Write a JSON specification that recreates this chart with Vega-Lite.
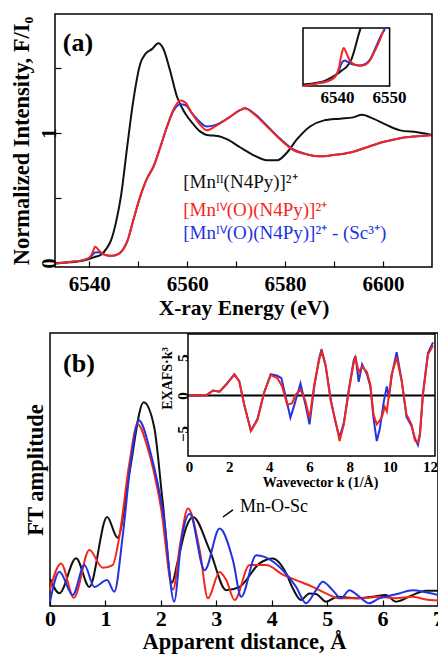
{
"$schema": "https://vega.github.io/schema/vega-lite/v6.json",
"padding": {"left": 9, "top": 13, "right": 0, "bottom": 0},
"background": "white",
"config": {
  "font": "Liberation Serif",
  "view": {"stroke": "black", "strokeWidth": 1.5},
  "axis": {"grid": false, "labelFlush": false, "labelOverlap": false, "labelFont": "Liberation Serif", "titleFont": "Liberation Serif", "labelFontWeight": "bold", "titleFontWeight": "bold", "labelColor": "black", "titleColor": "black", "tickColor": "black", "domainColor": "black", "tickWidth": 1.2}
},
"datasets": {
  "a": [
    {"s":"MnII","x":6533,"y":0.0},{"s":"MnII","x":6536,"y":0.005},{"s":"MnII","x":6539,"y":0.02},{"s":"MnII","x":6541,"y":0.045},{"s":"MnII","x":6542.5,"y":0.065},{"s":"MnII","x":6543.5,"y":0.11},{"s":"MnII","x":6544.5,"y":0.18},{"s":"MnII","x":6545.5,"y":0.32},{"s":"MnII","x":6546.5,"y":0.52},{"s":"MnII","x":6547.7,"y":0.88},{"s":"MnII","x":6549,"y":1.25},{"s":"MnII","x":6550.4,"y":1.53},{"s":"MnII","x":6551.5,"y":1.61},{"s":"MnII","x":6552.8,"y":1.645},{"s":"MnII","x":6554.1,"y":1.69},{"s":"MnII","x":6555.1,"y":1.65},{"s":"MnII","x":6556.5,"y":1.48},{"s":"MnII","x":6557.9,"y":1.28},{"s":"MnII","x":6559.6,"y":1.15},{"s":"MnII","x":6561.2,"y":1.07},{"s":"MnII","x":6562.7,"y":1.01},{"s":"MnII","x":6564,"y":0.985},{"s":"MnII","x":6565.3,"y":0.98},{"s":"MnII","x":6566.5,"y":0.975},{"s":"MnII","x":6568.2,"y":0.95},{"s":"MnII","x":6570.8,"y":0.89},{"s":"MnII","x":6573.5,"y":0.83},{"s":"MnII","x":6576.3,"y":0.79},{"s":"MnII","x":6578.4,"y":0.79},{"s":"MnII","x":6580.4,"y":0.85},{"s":"MnII","x":6582.4,"y":0.95},{"s":"MnII","x":6585.1,"y":1.05},{"s":"MnII","x":6587.8,"y":1.095},{"s":"MnII","x":6591.2,"y":1.11},{"s":"MnII","x":6593.9,"y":1.12},{"s":"MnII","x":6595.7,"y":1.14},{"s":"MnII","x":6598,"y":1.11},{"s":"MnII","x":6600.8,"y":1.06},{"s":"MnII","x":6603.5,"y":1.02},{"s":"MnII","x":6607,"y":1.005},{"s":"MnII","x":6610,"y":0.985},
    {"s":"MnIVSc","x":6533,"y":-0.005},{"s":"MnIVSc","x":6536,"y":0.008},{"s":"MnIVSc","x":6538.5,"y":0.02},{"s":"MnIVSc","x":6540,"y":0.04},{"s":"MnIVSc","x":6540.6,"y":0.06},{"s":"MnIVSc","x":6541.2,"y":0.08},{"s":"MnIVSc","x":6541.9,"y":0.082},{"s":"MnIVSc","x":6542.6,"y":0.07},{"s":"MnIVSc","x":6543.5,"y":0.06},{"s":"MnIVSc","x":6544.7,"y":0.055},{"s":"MnIVSc","x":6546,"y":0.07},{"s":"MnIVSc","x":6547,"y":0.11},{"s":"MnIVSc","x":6547.8,"y":0.17},{"s":"MnIVSc","x":6549,"y":0.33},{"s":"MnIVSc","x":6550.4,"y":0.51},{"s":"MnIVSc","x":6551.8,"y":0.65},{"s":"MnIVSc","x":6553.1,"y":0.74},{"s":"MnIVSc","x":6554.5,"y":0.89},{"s":"MnIVSc","x":6555.9,"y":1.05},{"s":"MnIVSc","x":6557.2,"y":1.17},{"s":"MnIVSc","x":6558.6,"y":1.22},{"s":"MnIVSc","x":6559.6,"y":1.215},{"s":"MnIVSc","x":6561,"y":1.15},{"s":"MnIVSc","x":6562.7,"y":1.08},{"s":"MnIVSc","x":6564,"y":1.05},{"s":"MnIVSc","x":6565.7,"y":1.06},{"s":"MnIVSc","x":6568.2,"y":1.11},{"s":"MnIVSc","x":6570.8,"y":1.175},{"s":"MnIVSc","x":6571.8,"y":1.19},{"s":"MnIVSc","x":6573.5,"y":1.155},{"s":"MnIVSc","x":6576.3,"y":1.055},{"s":"MnIVSc","x":6579,"y":0.955},{"s":"MnIVSc","x":6581.6,"y":0.875},{"s":"MnIVSc","x":6584.5,"y":0.835},{"s":"MnIVSc","x":6587.1,"y":0.82},{"s":"MnIVSc","x":6589.8,"y":0.83},{"s":"MnIVSc","x":6593.3,"y":0.85},{"s":"MnIVSc","x":6596.7,"y":0.89},{"s":"MnIVSc","x":6600,"y":0.93},{"s":"MnIVSc","x":6603.5,"y":0.96},{"s":"MnIVSc","x":6607,"y":0.975},{"s":"MnIVSc","x":6610,"y":0.985},
    {"s":"MnIV","x":6533,"y":-0.005},{"s":"MnIV","x":6536,"y":0.008},{"s":"MnIV","x":6538.5,"y":0.02},{"s":"MnIV","x":6540,"y":0.04},{"s":"MnIV","x":6540.6,"y":0.075},{"s":"MnIV","x":6541.2,"y":0.125},{"s":"MnIV","x":6541.9,"y":0.1},{"s":"MnIV","x":6542.6,"y":0.075},{"s":"MnIV","x":6543.5,"y":0.06},{"s":"MnIV","x":6544.7,"y":0.055},{"s":"MnIV","x":6546,"y":0.07},{"s":"MnIV","x":6547,"y":0.11},{"s":"MnIV","x":6547.8,"y":0.17},{"s":"MnIV","x":6549,"y":0.33},{"s":"MnIV","x":6550.4,"y":0.51},{"s":"MnIV","x":6551.8,"y":0.65},{"s":"MnIV","x":6553.1,"y":0.74},{"s":"MnIV","x":6554.5,"y":0.89},{"s":"MnIV","x":6555.9,"y":1.05},{"s":"MnIV","x":6557.2,"y":1.18},{"s":"MnIV","x":6558.6,"y":1.25},{"s":"MnIV","x":6559.6,"y":1.235},{"s":"MnIV","x":6561,"y":1.15},{"s":"MnIV","x":6562.7,"y":1.06},{"s":"MnIV","x":6564,"y":1.02},{"s":"MnIV","x":6565.7,"y":1.05},{"s":"MnIV","x":6568.2,"y":1.11},{"s":"MnIV","x":6570.8,"y":1.175},{"s":"MnIV","x":6571.8,"y":1.19},{"s":"MnIV","x":6573.5,"y":1.15},{"s":"MnIV","x":6576.3,"y":1.05},{"s":"MnIV","x":6579,"y":0.95},{"s":"MnIV","x":6581.6,"y":0.87},{"s":"MnIV","x":6584.5,"y":0.835},{"s":"MnIV","x":6587.1,"y":0.82},{"s":"MnIV","x":6589.8,"y":0.83},{"s":"MnIV","x":6593.3,"y":0.85},{"s":"MnIV","x":6596.7,"y":0.89},{"s":"MnIV","x":6600,"y":0.93},{"s":"MnIV","x":6603.5,"y":0.96},{"s":"MnIV","x":6607,"y":0.975},{"s":"MnIV","x":6610,"y":0.985}
  ],
  "ai": [
    {"s":"MnII","x":6533.5,"y":0.005},{"s":"MnII","x":6535.4,"y":0.009},{"s":"MnII","x":6537.4,"y":0.016},{"s":"MnII","x":6539,"y":0.03},{"s":"MnII","x":6540,"y":0.041},{"s":"MnII","x":6540.9,"y":0.053},{"s":"MnII","x":6541.9,"y":0.067},{"s":"MnII","x":6542.8,"y":0.093},{"s":"MnII","x":6543.5,"y":0.133},{"s":"MnII","x":6544.1,"y":0.173},{"s":"MnII","x":6544.55,"y":0.2},
    {"s":"MnIVSc","x":6533.5,"y":0.0},{"s":"MnIVSc","x":6536,"y":0.009},{"s":"MnIVSc","x":6538.3,"y":0.018},{"s":"MnIVSc","x":6539.6,"y":0.032},{"s":"MnIVSc","x":6540.4,"y":0.055},{"s":"MnIVSc","x":6540.9,"y":0.078},{"s":"MnIVSc","x":6541.5,"y":0.088},{"s":"MnIVSc","x":6542,"y":0.084},{"s":"MnIVSc","x":6542.5,"y":0.078},{"s":"MnIVSc","x":6543.5,"y":0.073},{"s":"MnIVSc","x":6544.4,"y":0.071},{"s":"MnIVSc","x":6545.4,"y":0.075},{"s":"MnIVSc","x":6546.3,"y":0.09},{"s":"MnIVSc","x":6547.3,"y":0.127},{"s":"MnIVSc","x":6548.3,"y":0.168},{"s":"MnIVSc","x":6549.2,"y":0.197},
    {"s":"MnIV","x":6533.5,"y":0.0},{"s":"MnIV","x":6536,"y":0.008},{"s":"MnIV","x":6538.3,"y":0.017},{"s":"MnIV","x":6539.6,"y":0.031},{"s":"MnIV","x":6540.4,"y":0.064},{"s":"MnIV","x":6540.9,"y":0.11},{"s":"MnIV","x":6541.3,"y":0.131},{"s":"MnIV","x":6541.9,"y":0.11},{"s":"MnIV","x":6542.5,"y":0.087},{"s":"MnIV","x":6543.5,"y":0.073},{"s":"MnIV","x":6544.4,"y":0.07},{"s":"MnIV","x":6545.4,"y":0.073},{"s":"MnIV","x":6546.3,"y":0.087},{"s":"MnIV","x":6547.3,"y":0.122},{"s":"MnIV","x":6548.3,"y":0.162},{"s":"MnIV","x":6548.9,"y":0.19}
  ],
  "b": [
    {"s":"MnII","x":0,"y":0.1},{"s":"MnII","x":0.17,"y":0.047},{"s":"MnII","x":0.47,"y":0.175},{"s":"MnII","x":0.71,"y":0.07},{"s":"MnII","x":1.03,"y":0.326},{"s":"MnII","x":1.22,"y":0.25},{"s":"MnII","x":1.43,"y":0.485},{"s":"MnII","x":1.69,"y":0.746},{"s":"MnII","x":1.88,"y":0.655},{"s":"MnII","x":2.03,"y":0.387},{"s":"MnII","x":2.2,"y":0.085},{"s":"MnII","x":2.3,"y":0.16},{"s":"MnII","x":2.46,"y":0.29},{"s":"MnII","x":2.58,"y":0.326},{"s":"MnII","x":2.88,"y":0.205},{"s":"MnII","x":3.18,"y":0.058},{"s":"MnII","x":3.42,"y":0.07},{"s":"MnII","x":3.78,"y":0.156},{"s":"MnII","x":4.02,"y":0.174},{"s":"MnII","x":4.26,"y":0.12},{"s":"MnII","x":4.38,"y":0.065},{"s":"MnII","x":4.53,"y":0.022},{"s":"MnII","x":4.68,"y":0.046},{"s":"MnII","x":4.8,"y":0.044},{"s":"MnII","x":4.98,"y":0.016},{"s":"MnII","x":5.19,"y":0.034},{"s":"MnII","x":5.52,"y":0.028},{"s":"MnII","x":5.82,"y":0.034},{"s":"MnII","x":6.06,"y":0.04},{"s":"MnII","x":6.24,"y":0.016},{"s":"MnII","x":6.54,"y":0.04},{"s":"MnII","x":6.78,"y":0.056},{"s":"MnII","x":7.0,"y":0.056},
    {"s":"MnIV","x":0,"y":0.06},{"s":"MnIV","x":0.2,"y":0.156},{"s":"MnIV","x":0.43,"y":0.03},{"s":"MnIV","x":0.71,"y":0.205},{"s":"MnIV","x":0.95,"y":0.14},{"s":"MnIV","x":1.13,"y":0.15},{"s":"MnIV","x":1.25,"y":0.253},{"s":"MnIV","x":1.43,"y":0.52},{"s":"MnIV","x":1.58,"y":0.667},{"s":"MnIV","x":1.76,"y":0.58},{"s":"MnIV","x":2.0,"y":0.362},{"s":"MnIV","x":2.22,"y":0.06},{"s":"MnIV","x":2.35,"y":0.23},{"s":"MnIV","x":2.49,"y":0.357},{"s":"MnIV","x":2.7,"y":0.205},{"s":"MnIV","x":2.85,"y":0.028},{"s":"MnIV","x":3.06,"y":0.125},{"s":"MnIV","x":3.18,"y":0.095},{"s":"MnIV","x":3.33,"y":0.022},{"s":"MnIV","x":3.6,"y":0.15},{"s":"MnIV","x":3.9,"y":0.15},{"s":"MnIV","x":4.2,"y":0.115},{"s":"MnIV","x":4.44,"y":0.095},{"s":"MnIV","x":4.74,"y":0.07},{"s":"MnIV","x":4.98,"y":0.046},{"s":"MnIV","x":5.22,"y":0.028},{"s":"MnIV","x":5.64,"y":0.028},{"s":"MnIV","x":5.94,"y":0.034},{"s":"MnIV","x":6.24,"y":0.028},{"s":"MnIV","x":6.54,"y":0.034},{"s":"MnIV","x":6.78,"y":0.024},{"s":"MnIV","x":7.0,"y":0.02},
    {"s":"MnIVSc","x":0,"y":0.015},{"s":"MnIVSc","x":0.17,"y":0.125},{"s":"MnIVSc","x":0.41,"y":0.04},{"s":"MnIVSc","x":0.62,"y":0.15},{"s":"MnIVSc","x":0.8,"y":0.07},{"s":"MnIVSc","x":1.03,"y":0.095},{"s":"MnIVSc","x":1.16,"y":0.052},{"s":"MnIVSc","x":1.31,"y":0.253},{"s":"MnIVSc","x":1.46,"y":0.533},{"s":"MnIVSc","x":1.6,"y":0.68},{"s":"MnIVSc","x":1.82,"y":0.557},{"s":"MnIVSc","x":2.06,"y":0.314},{"s":"MnIVSc","x":2.24,"y":0.016},{"s":"MnIVSc","x":2.37,"y":0.24},{"s":"MnIVSc","x":2.52,"y":0.338},{"s":"MnIVSc","x":2.79,"y":0.131},{"s":"MnIVSc","x":3.06,"y":0.284},{"s":"MnIVSc","x":3.3,"y":0.168},{"s":"MnIVSc","x":3.45,"y":0.034},{"s":"MnIVSc","x":3.72,"y":0.186},{"s":"MnIVSc","x":3.87,"y":0.18},{"s":"MnIVSc","x":4.2,"y":0.131},{"s":"MnIVSc","x":4.44,"y":0.07},{"s":"MnIVSc","x":4.62,"y":0.01},{"s":"MnIVSc","x":4.8,"y":0.058},{"s":"MnIVSc","x":4.92,"y":0.089},{"s":"MnIVSc","x":5.1,"y":0.058},{"s":"MnIVSc","x":5.25,"y":0.028},{"s":"MnIVSc","x":5.4,"y":0.058},{"s":"MnIVSc","x":5.58,"y":0.034},{"s":"MnIVSc","x":5.76,"y":0.01},{"s":"MnIVSc","x":5.94,"y":0.028},{"s":"MnIVSc","x":6.06,"y":0.034},{"s":"MnIVSc","x":6.3,"y":0.046},{"s":"MnIVSc","x":6.54,"y":0.058},{"s":"MnIVSc","x":6.78,"y":0.05},{"s":"MnIVSc","x":7.0,"y":0.04}
  ],
  "bi": [
    {"s":"MnIVSc","x":0,"y":0},{"s":"MnIVSc","x":0.5,"y":0},{"s":"MnIVSc","x":0.87,"y":0.05},{"s":"MnIVSc","x":1.2,"y":0.66},{"s":"MnIVSc","x":1.52,"y":0.5},{"s":"MnIVSc","x":1.85,"y":1.45},{"s":"MnIVSc","x":2.26,"y":2.8},{"s":"MnIVSc","x":2.5,"y":1.9},{"s":"MnIVSc","x":2.75,"y":-1.2},{"s":"MnIVSc","x":3.08,"y":-4.6},{"s":"MnIVSc","x":3.41,"y":-3.1},{"s":"MnIVSc","x":3.74,"y":0.4},{"s":"MnIVSc","x":4.07,"y":2.8},{"s":"MnIVSc","x":4.4,"y":2.6},{"s":"MnIVSc","x":4.6,"y":2.3},{"s":"MnIVSc","x":4.8,"y":0.0},{"s":"MnIVSc","x":5.05,"y":-2.9},{"s":"MnIVSc","x":5.25,"y":-1.2},{"s":"MnIVSc","x":5.55,"y":1.6},{"s":"MnIVSc","x":5.8,"y":-1.2},{"s":"MnIVSc","x":6.0,"y":-3.8},{"s":"MnIVSc","x":6.24,"y":1.2},{"s":"MnIVSc","x":6.48,"y":4.9},{"s":"MnIVSc","x":6.6,"y":6.1},{"s":"MnIVSc","x":6.8,"y":4.0},{"s":"MnIVSc","x":7.06,"y":-0.5},{"s":"MnIVSc","x":7.3,"y":-3.6},{"s":"MnIVSc","x":7.5,"y":-5.5},{"s":"MnIVSc","x":7.71,"y":-3.6},{"s":"MnIVSc","x":7.96,"y":0.8},{"s":"MnIVSc","x":8.2,"y":4.6},{"s":"MnIVSc","x":8.29,"y":5.2},{"s":"MnIVSc","x":8.45,"y":1.8},{"s":"MnIVSc","x":8.62,"y":4.1},{"s":"MnIVSc","x":8.86,"y":2.8},{"s":"MnIVSc","x":9.03,"y":1.2},{"s":"MnIVSc","x":9.19,"y":-3.0},{"s":"MnIVSc","x":9.35,"y":-6.0},{"s":"MnIVSc","x":9.5,"y":-4.4},{"s":"MnIVSc","x":9.7,"y":-0.8},{"s":"MnIVSc","x":9.85,"y":1.2},{"s":"MnIVSc","x":9.95,"y":-0.3},{"s":"MnIVSc","x":10.1,"y":2.7},{"s":"MnIVSc","x":10.34,"y":5.7},{"s":"MnIVSc","x":10.59,"y":2.0},{"s":"MnIVSc","x":10.83,"y":-2.8},{"s":"MnIVSc","x":11.08,"y":-4.0},{"s":"MnIVSc","x":11.25,"y":-5.6},{"s":"MnIVSc","x":11.4,"y":-6.5},{"s":"MnIVSc","x":11.5,"y":-5.2},{"s":"MnIVSc","x":11.65,"y":0.3},{"s":"MnIVSc","x":11.9,"y":5.6},{"s":"MnIVSc","x":12.15,"y":7.0},
    {"s":"MnIV","x":0,"y":0},{"s":"MnIV","x":0.5,"y":0},{"s":"MnIV","x":0.87,"y":0.05},{"s":"MnIV","x":1.2,"y":0.66},{"s":"MnIV","x":1.52,"y":0.5},{"s":"MnIV","x":1.85,"y":1.45},{"s":"MnIV","x":2.26,"y":2.76},{"s":"MnIV","x":2.5,"y":1.9},{"s":"MnIV","x":2.75,"y":-1.2},{"s":"MnIV","x":3.08,"y":-4.7},{"s":"MnIV","x":3.41,"y":-3.2},{"s":"MnIV","x":3.74,"y":0.36},{"s":"MnIV","x":4.07,"y":2.7},{"s":"MnIV","x":4.4,"y":2.3},{"s":"MnIV","x":4.64,"y":1.2},{"s":"MnIV","x":4.89,"y":-1.2},{"s":"MnIV","x":5.14,"y":-1.0},{"s":"MnIV","x":5.3,"y":0.1},{"s":"MnIV","x":5.55,"y":0.8},{"s":"MnIV","x":5.8,"y":-0.75},{"s":"MnIV","x":6.0,"y":-3.0},{"s":"MnIV","x":6.24,"y":1.45},{"s":"MnIV","x":6.48,"y":4.7},{"s":"MnIV","x":6.6,"y":5.8},{"s":"MnIV","x":6.8,"y":4.0},{"s":"MnIV","x":7.06,"y":-0.75},{"s":"MnIV","x":7.3,"y":-3.4},{"s":"MnIV","x":7.5,"y":-6.0},{"s":"MnIV","x":7.71,"y":-3.8},{"s":"MnIV","x":7.96,"y":0.6},{"s":"MnIV","x":8.2,"y":4.3},{"s":"MnIV","x":8.29,"y":5.0},{"s":"MnIV","x":8.45,"y":3.1},{"s":"MnIV","x":8.62,"y":3.8},{"s":"MnIV","x":8.86,"y":3.1},{"s":"MnIV","x":9.03,"y":1.45},{"s":"MnIV","x":9.19,"y":-2.5},{"s":"MnIV","x":9.35,"y":-3.8},{"s":"MnIV","x":9.6,"y":-2.9},{"s":"MnIV","x":9.75,"y":-1.5},{"s":"MnIV","x":9.85,"y":-2.1},{"s":"MnIV","x":10.09,"y":2.76},{"s":"MnIV","x":10.34,"y":5.0},{"s":"MnIV","x":10.59,"y":1.9},{"s":"MnIV","x":10.83,"y":-2.5},{"s":"MnIV","x":11.08,"y":-3.8},{"s":"MnIV","x":11.25,"y":-5.9},{"s":"MnIV","x":11.4,"y":-6.2},{"s":"MnIV","x":11.5,"y":-5.0},{"s":"MnIV","x":11.65,"y":0.1},{"s":"MnIV","x":11.9,"y":5.4},{"s":"MnIV","x":12.15,"y":6.6}
  ]
},
"bounds": "flush",
"spacing": 66,
"vconcat": [
  {
    "width": 382, "height": 253,
    "view": {"stroke": null},
    "resolve": {"scale": {"x": "independent", "y": "independent"}, "axis": {"x": "independent", "y": "independent"}},
    "layer": [
      {
        "layer": [
          {
            "data": {"name": "a"},
            "mark": {"type": "line", "strokeWidth": 2, "interpolate": "monotone"},
            "encoding": {
              "x": {"field": "x", "type": "quantitative", "scale": {"domain": [6533, 6610], "range": [5, 382], "nice": false, "zero": false},
                    "axis": {"orient": "bottom", "title": "X-ray Energy (eV)", "values": [6540, 6550, 6560, 6570, 6580, 6590, 6600], "format": "d", "labelExpr": "datum.value % 20 == 0 ? datum.label : ''", "domain": false, "tickSize": -6, "labelPadding": 12, "labelFontSize": 21, "titleFontSize": 21.5, "titlePadding": 3}},
              "y": {"field": "y", "type": "quantitative", "scale": {"domain": [-0.031, 1.915], "nice": false, "zero": false},
                    "axis": {"orient": "left", "title": "Normalized Intensity, F/I₀", "values": [0, 0.5, 1, 1.5], "labelExpr": "datum.value == 0 ? '0' : (datum.value == 1 ? '1' : '')", "offset": -5, "domain": false, "tickSize": -6, "labelAngle": -90, "labelAlign": "center", "labelBaseline": "alphabetic", "labelPadding": 6, "labelFontSize": 20, "titleFontSize": 22.5, "titlePadding": 6}},
              "color": {"field": "s", "type": "nominal", "scale": {"domain": ["MnII", "MnIV", "MnIVSc"], "range": ["#111111", "#f4261c", "#2433e0"]}, "legend": null}
            }
          },
          {
            "data": {"values": [{"label": "[Mnᴵᴵ(N4Py)]²⁺"}]},
            "mark": {"type": "text", "align": "left", "baseline": "middle", "fontSize": 19, "font": "Liberation Serif", "color": "#111111"},
            "encoding": {"x": {"datum": 6559.2}, "y": {"datum": 0.623}, "text": {"field": "label"}}
          },
          {
            "data": {"values": [{"label": "[Mnᴵⱽ(O)(N4Py)]²⁺"}]},
            "mark": {"type": "text", "align": "left", "baseline": "middle", "fontSize": 19, "font": "Liberation Serif", "color": "#f4261c"},
            "encoding": {"x": {"datum": 6559.2}, "y": {"datum": 0.408}, "text": {"field": "label"}}
          },
          {
            "data": {"values": [{"label": "[Mnᴵⱽ(O)(N4Py)]²⁺ - (Sc³⁺)"}]},
            "mark": {"type": "text", "align": "left", "baseline": "middle", "fontSize": 19, "font": "Liberation Serif", "color": "#2433e0"},
            "encoding": {"x": {"datum": 6559.2}, "y": {"datum": 0.231}, "text": {"field": "label"}}
          },
          {
            "data": {"values": [{"label": "(a)"}]},
            "mark": {"type": "text", "align": "left", "baseline": "middle", "fontSize": 26, "fontWeight": "bold", "font": "Liberation Serif", "color": "black"},
            "encoding": {"x": {"datum": 6534.6}, "y": {"datum": 1.69}, "text": {"field": "label"}}
          },
          {
            "data": {"values": [{"frame": "a"}]},
            "mark": {"type": "rect", "fillOpacity": 0, "stroke": "black", "strokeWidth": 1.5},
            "encoding": {"x": {"datum": 6533}, "x2": {"datum": 6610}, "y": {"datum": -0.031}, "y2": {"datum": 1.915}}
          }
        ]
      },
      {
        "layer": [
          {
            "data": {"values": [{"frame": "a-inset"}]},
            "mark": {"type": "rect", "fill": "white", "stroke": "black", "strokeWidth": 1.5},
            "encoding": {
              "x": {"datum": 6533.5, "type": "quantitative", "scale": {"domain": [6533.5, 6550.1], "range": [253, 339.6], "nice": false, "zero": false},
                    "axis": {"orient": "bottom", "offset": -181, "title": null, "values": [6540, 6550], "format": "d", "domain": false, "tickSize": -5, "labelPadding": 8, "labelFontSize": 17}},
              "x2": {"datum": 6550.1},
              "y": {"datum": 0, "type": "quantitative", "scale": {"domain": [0, 0.2], "range": [72, 14], "nice": false, "zero": false}, "axis": null},
              "y2": {"datum": 0.2}
            }
          },
          {
            "data": {"name": "ai"},
            "mark": {"type": "line", "strokeWidth": 2, "interpolate": "monotone"},
            "encoding": {
              "x": {"field": "x", "type": "quantitative"},
              "y": {"field": "y", "type": "quantitative"},
              "color": {"field": "s", "type": "nominal", "legend": null}
            }
          }
        ]
      }
    ]
  },
  {
    "width": 388, "height": 273,
    "resolve": {"scale": {"x": "independent", "y": "independent"}, "axis": {"x": "independent", "y": "independent"}},
    "layer": [
      {
        "layer": [
          {
            "data": {"name": "b"},
            "mark": {"type": "line", "strokeWidth": 2, "interpolate": "monotone"},
            "encoding": {
              "x": {"field": "x", "type": "quantitative", "scale": {"domain": [0, 7], "nice": false, "zero": false},
                    "axis": {"orient": "bottom", "title": "Apparent distance, Å", "values": [0, 1, 2, 3, 4, 5, 6, 7], "format": "d", "domain": false, "tickSize": -6, "labelPadding": 8, "labelFontSize": 22, "titleFontSize": 22.5, "titlePadding": 1}},
              "y": {"field": "y", "type": "quantitative", "scale": {"domain": [0, 1], "nice": false, "zero": false},
                    "axis": {"orient": "left", "title": "FT amplitude", "labels": false, "ticks": false, "domain": false, "titleFontSize": 22.5, "titlePadding": 3}},
              "color": {"field": "s", "type": "nominal", "scale": {"domain": ["MnII", "MnIV", "MnIVSc"], "range": ["#111111", "#f4261c", "#2433e0"]}, "legend": null}
            }
          },
          {
            "data": {"values": [{"label": "(b)"}]},
            "mark": {"type": "text", "align": "left", "baseline": "middle", "fontSize": 26, "fontWeight": "bold", "font": "Liberation Serif", "color": "black"},
            "encoding": {"x": {"datum": 0.235}, "y": {"datum": 0.886}, "text": {"field": "label"}}
          },
          {
            "data": {"values": [{"label": "Mn-O-Sc"}]},
            "mark": {"type": "text", "align": "left", "baseline": "middle", "fontSize": 18, "font": "Liberation Serif", "color": "black"},
            "encoding": {"x": {"datum": 3.43}, "y": {"datum": 0.363}, "text": {"field": "label"}}
          },
          {
            "data": {"values": [{"label": "pointer"}]},
            "mark": {"type": "rule", "color": "black", "strokeWidth": 1.5},
            "encoding": {"x": {"datum": 3.12}, "y": {"datum": 0.326}, "x2": {"datum": 3.3}, "y2": {"datum": 0.352}}
          }
        ]
      },
      {
        "layer": [
          {
            "data": {"values": [{"frame": "b-inset"}]},
            "mark": {"type": "rect", "fill": "white", "stroke": "black", "strokeWidth": 1.5},
            "encoding": {
              "x": {"datum": -0.05, "type": "quantitative", "scale": {"domain": [-0.05, 12.25], "range": [138, 385], "nice": false, "zero": false},
                    "axis": {"orient": "bottom", "offset": -150, "title": "Wavevector k (1/Å)", "titleX": 270, "values": [0,1,2,3,4,5,6,7,8,9,10,11,12], "format": "d", "labelExpr": "datum.value % 2 == 0 ? datum.label : ''", "domain": false, "tickSize": -4, "labelPadding": 7, "labelFontSize": 15, "titleFontSize": 14, "titlePadding": 1}},
              "x2": {"datum": 12.25},
              "y": {"datum": -7.96, "type": "quantitative", "scale": {"domain": [-7.96, 8.1], "range": [123, 1], "nice": false, "zero": false},
                    "axis": {"orient": "left", "offset": -138, "title": "EXAFS·k³", "titleY": 45, "values": [-5, 0, 5], "format": "d", "domain": false, "tickSize": -4, "labelAngle": -90, "labelAlign": "center", "labelBaseline": "alphabetic", "labelPadding": 5, "labelFontSize": 15, "titleFontSize": 14, "titlePadding": 1}},
              "y2": {"datum": 8.1}
            }
          },
          {
            "data": {"values": [{"line": "zero"}]},
            "mark": {"type": "rule", "color": "black", "strokeWidth": 2},
            "encoding": {"x": {"datum": -0.05}, "x2": {"datum": 12.25}, "y": {"datum": 0}}
          },
          {
            "data": {"name": "bi"},
            "mark": {"type": "line", "strokeWidth": 2},
            "encoding": {
              "x": {"field": "x", "type": "quantitative"},
              "y": {"field": "y", "type": "quantitative"},
              "color": {"field": "s", "type": "nominal", "legend": null}
            }
          }
        ]
      }
    ]
  }
]
}
